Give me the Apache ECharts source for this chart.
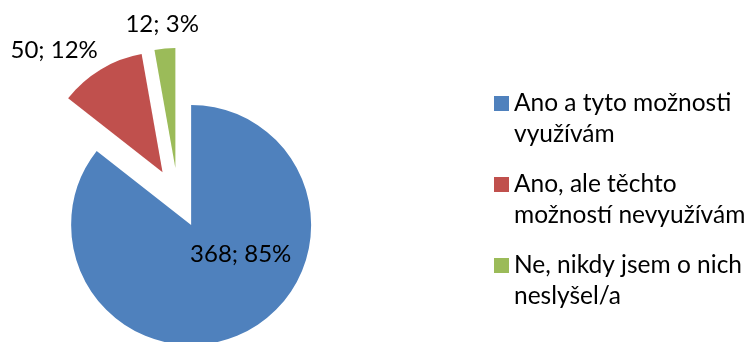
<!DOCTYPE html>
<html>
<head>
<meta charset="utf-8">
<script src="https://cdn.jsdelivr.net/npm/echarts@6/dist/echarts.min.js"></script>
<style>
  html, body { margin: 0; padding: 0; background: #fff; }
  #chart { width: 749px; height: 342px; }
</style>
</head>
<body>
<div id="chart"></div>
<script>
// Answers to the survey question, in legend order
const categories = [
  'Ano a tyto možnosti\nvyužívám',
  'Ano, ale těchto\nmožností nevyužívám',
  'Ne, nikdy jsem o nich\nneslyšel/a'
];
const counts = [368, 50, 12];
const percents = [85, 12, 3];
const colors = ['#4F81BD', '#C0504D', '#9BBB59'];

// Fine nudges for the data labels (px), per slice
const labelNudge = [[22, -27], [2, -19], [39, -24]];

const FONT = 'Lato';

const chart = echarts.init(document.getElementById('chart'), null, { renderer: 'canvas' });

chart.setOption({
  animation: false,
  legend: {
    orient: 'vertical',
    left: 494,
    top: 57,
    padding: 0,
    itemWidth: 15,
    itemHeight: 15,
    itemGap: -12,
    icon: 'rect',
    selectedMode: false,
    // a blank leading line keeps the swatch level with the first text line
    formatter: name => ' \n' + name,
    textStyle: {
      fontFamily: FONT,
      fontSize: 24.5,
      lineHeight: 31,
      color: '#000'
    },
    data: categories
  },
  series: [{
    type: 'pie',
    center: [178, 198],
    radius: 120,
    startAngle: 90,
    clockwise: true,
    selectedMode: 'multiple',
    selectedOffset: 30,
    avoidLabelOverlap: false,
    silent: true,
    label: {
      show: true,
      fontFamily: FONT,
      fontSize: 24,
      color: '#000',
      formatter: p => counts[p.dataIndex] + '; ' + percents[p.dataIndex] + '%'
    },
    labelLine: { show: false, length: 0, length2: 0 },
    labelLayout: p => ({ dx: labelNudge[p.dataIndex][0], dy: labelNudge[p.dataIndex][1] }),
    data: counts.map((v, i) => ({
      name: categories[i],
      value: v,
      selected: true,
      itemStyle: { color: colors[i] },
      label: { position: i === 0 ? 'inside' : 'outside' }
    }))
  }]
});
</script>
</body>
</html>
